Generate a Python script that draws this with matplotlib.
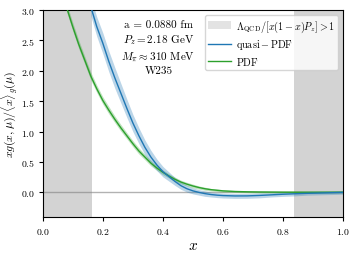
import numpy as np
import matplotlib
matplotlib.use("Agg")
import matplotlib.pyplot as plt
from matplotlib.patches import Patch
from matplotlib.lines import Line2D

plt.rcParams['font.family'] = 'serif'
plt.rcParams['font.serif'] = ['cmr10', 'DejaVu Serif']
plt.rcParams['mathtext.fontset'] = 'cm'
plt.rcParams['axes.formatter.use_mathtext'] = True

# quasi-PDF (blue), values
qx = [0.16, 0.18, 0.20, 0.22, 0.24, 0.26, 0.28, 0.30, 0.32, 0.34, 0.36, 0.38, 0.40,
      0.42, 0.44, 0.46, 0.48, 0.50, 0.52, 0.54, 0.56, 0.58, 0.60, 0.64, 0.68, 0.72,
      0.76, 0.80, 0.84, 0.88, 0.92, 0.96, 1.00]
qy = [3.05, 2.72, 2.45, 2.15, 1.88, 1.63, 1.38, 1.14, 0.93, 0.74, 0.58, 0.45, 0.34,
      0.26, 0.18, 0.11, 0.06, 0.025, 0.0, -0.02, -0.035, -0.045, -0.052, -0.058, -0.057, -0.05,
      -0.04, -0.03, -0.022, -0.015, -0.01, -0.005, 0.0]
qerr = [0.15, 0.16, 0.17, 0.17, 0.17, 0.16, 0.15, 0.14, 0.13, 0.12, 0.11, 0.095, 0.085,
        0.075, 0.065, 0.06, 0.055, 0.05, 0.045, 0.045, 0.04, 0.04, 0.04, 0.04, 0.04, 0.04,
        0.035, 0.035, 0.035, 0.03, 0.03, 0.03, 0.03]

# PDF (green)
px = [0.08, 0.10, 0.12, 0.14, 0.16, 0.18, 0.20, 0.22, 0.24, 0.26, 0.28, 0.30, 0.32,
      0.34, 0.36, 0.38, 0.40, 0.42, 0.44, 0.46, 0.48, 0.50, 0.52, 0.54, 0.56, 0.58,
      0.60, 0.64, 0.68, 0.72, 0.80, 0.90, 1.00]
py = [3.03, 2.72, 2.43, 2.17, 1.91, 1.70, 1.51, 1.35, 1.20, 1.06, 0.93, 0.80, 0.68,
      0.58, 0.48, 0.40, 0.33, 0.27, 0.215, 0.17, 0.135, 0.105, 0.08, 0.06, 0.045, 0.035,
      0.025, 0.015, 0.01, 0.007, 0.004, 0.003, 0.003]
perr = [0.07, 0.07, 0.07, 0.065, 0.065, 0.06, 0.06, 0.06, 0.055, 0.055, 0.05, 0.05, 0.05,
        0.045, 0.045, 0.04, 0.04, 0.035, 0.035, 0.03, 0.03, 0.03, 0.025, 0.025, 0.02, 0.02,
        0.02, 0.015, 0.015, 0.015, 0.015, 0.015, 0.015]

xcut_lo = 0.163
xcut_hi = 0.837

qx = np.array(qx); qy = np.array(qy); qerr = np.array(qerr)
px = np.array(px); py = np.array(py); perr = np.array(perr)

fig = plt.figure(figsize=(3.57, 2.55), dpi=100)
ax = fig.add_axes([0.1196, 0.146, 0.842, 0.812])

ax.axvspan(0, xcut_lo, color='#d3d3d3', lw=0, zorder=0)
ax.axvspan(xcut_hi, 1, color='#d3d3d3', lw=0, zorder=0)
ax.axhline(0, color='gray', lw=1, alpha=0.6, zorder=1)

ax.fill_between(px, py - perr, py + perr, color='#2ca02c', alpha=0.3, lw=0, zorder=2)
ax.plot(px, py, color='#2ca02c', lw=1, zorder=3)
ax.fill_between(qx, qy - qerr, qy + qerr, color='#1f77b4', alpha=0.3, lw=0, zorder=2)
ax.plot(qx, qy, color='#1f77b4', lw=1, zorder=3)

ax.set_xlim(0, 1)
ax.set_ylim(-0.4, 3.0)
ax.set_xticks([0.0, 0.2, 0.4, 0.6, 0.8, 1.0])
ax.set_yticks([0.0, 0.5, 1.0, 1.5, 2.0, 2.5, 3.0])
ax.tick_params(labelsize=7, length=3, width=0.8)
ax.tick_params(axis='y', pad=2.5)
ax.set_xlabel(r'$x$', fontsize=11, labelpad=2)
ax.set_ylabel(r'$xg(x,\mu)/\langle x\rangle_g(\mu)$', fontsize=8.5)
ax.yaxis.set_label_coords(-0.075, 0.5)

ax.text(0.385, 0.955, 'a = 0.0880 fm\n' + r'$P_z=2.18$ GeV' + '\n' + r'$M_\pi\approx310$ MeV' + '\nW235',
        transform=ax.transAxes, ha='center', va='top', fontsize=8, linespacing=1.35)

handles = [Patch(color='#e3e3e3', lw=0),
           Line2D([], [], color='#1f77b4', lw=1),
           Line2D([], [], color='#2ca02c', lw=1)]
labels = [r'$\Lambda_{\rm QCD}/[x(1-x)P_z]>1$', r'$\rm quasi-PDF$', r'$\rm PDF$']
ax.legend(handles, labels, loc='upper right', fontsize=7.3, bbox_to_anchor=(0.99, 0.985),
          handlelength=2.2, handletextpad=0.5, labelspacing=0.35, borderpad=0.35,
          borderaxespad=0.2)

fig.savefig('out.png', dpi=100)
